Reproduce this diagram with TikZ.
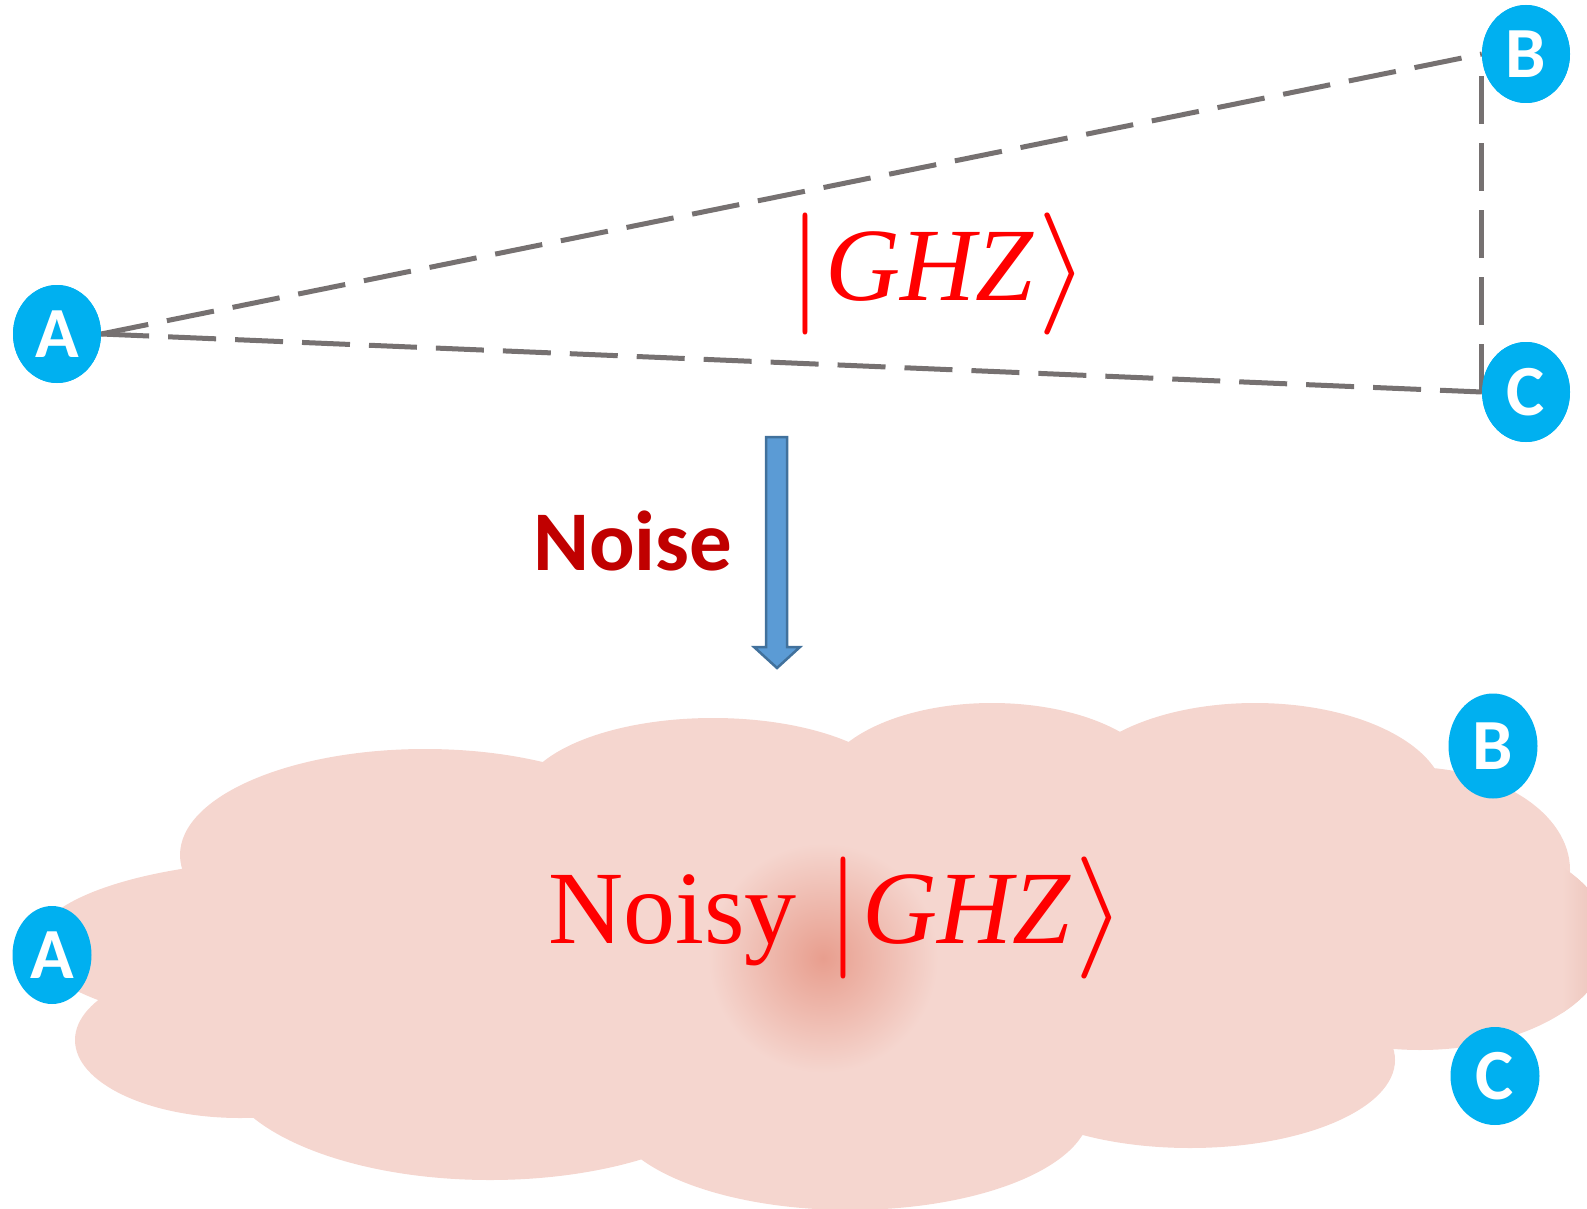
\documentclass[tikz,border=0pt]{standalone}
\usepackage{graphicx}
\usepackage{fontspec}
\setmainfont{Liberation Serif}
\newfontfamily\labelfont{Carlito}
\usetikzlibrary{shapes.geometric}

\definecolor{linkgray}{RGB}{118,113,113}
\definecolor{partycyan}{RGB}{0,176,240}
\definecolor{noisered}{RGB}{192,0,0}
\definecolor{ketred}{RGB}{255,0,0}
\definecolor{arrowfill}{RGB}{91,155,213}
\definecolor{arrowedge}{RGB}{65,113,156}
\definecolor{cloudpink}{RGB}{245,214,207}
\definecolor{cloudspot}{RGB}{232,158,142}
\definecolor{cloudedge}{RGB}{234,190,180}

% ket delimiters stretched to 122pt
\newcommand{\ketopen}{\raisebox{-5pt}{\resizebox*{!}{122pt}{$|$}}}
\newcommand{\ketclose}{\raisebox{-5pt}{\resizebox*{52pt}{122pt}{$\rangle$}}}
\newcommand{\ghzket}{\ketopen\kern2.5pt\textit{GHZ}\kern3pt\ketclose}

\tikzset{
  party/.style={ellipse, fill=partycyan, inner sep=0pt, text=white,
    font=\labelfont\bfseries\fontsize{72}{72}\selectfont},
  link/.style={draw=linkgray, line width=5pt, dash pattern=on 48pt off 19pt},
  ket/.style={text=ketred, inner sep=0pt, anchor=base west,
    font=\fontsize{104}{120}\selectfont},
  noisetext/.style={text=noisered, inner sep=0pt, anchor=base west,
    font=\labelfont\bfseries\fontsize{85}{90}\selectfont},
  lobe/.style={fill=cloudpink}
}

\begin{document}
\begin{tikzpicture}[x=1pt,y=-1pt]
\useasboundingbox (0,0) rectangle (1587,1209);

% ---- noisy cloud (union of elliptic lobes) ----
\begin{scope}
  \clip (0,0) rectangle (1587,1209);
  \fill[lobe]
    (425,855) ellipse (245 and 106)
    (713,800) ellipse (192 and 82)
    (992,790) ellipse (172 and 87)
    (1255,800) ellipse (190 and 97)
    (1410,870) ellipse (160 and 103)
    (1420,940) ellipse (190 and 110)
    (1190,1060) ellipse (205 and 88)
    (850,1110) ellipse (240 and 100)
    (490,1060) ellipse (270 and 120)
    (240,1040) ellipse (165 and 78)
    (300,945) ellipse (265 and 85);
  \fill[lobe] (300,900) -- (425,800) -- (713,770) -- (992,760) -- (1255,760)
    -- (1410,820) -- (1480,940) -- (1400,1030) -- (1190,1080) -- (850,1150)
    -- (490,1120) -- (240,1040) -- (200,950) -- cycle;
  % darker rim where the right lobe leaves the frame
  \begin{scope}
    \clip (1420,940) ellipse (190 and 110);
    \shade[left color=cloudpink, right color=cloudedge] (1562,820) rectangle (1612,1060);
  \end{scope}
  % reddish core of the cloud
  \shade[inner color=cloudspot, outer color=cloudpink] (823,958) circle (115);
\end{scope}

% ---- clean GHZ triangle ----
\node[party, minimum width=88pt, minimum height=98pt] (A) at (57,334) {A};
\node[party, minimum width=88pt, minimum height=98pt] (B) at (1526,54) {B};
\node[party, minimum width=88pt, minimum height=100pt] (C) at (1526,392) {C};

\draw[link] (A.east) -- (B.west);
\draw[link] (A.east) -- (C.west);
\draw[link, shorten >=10pt] (C.west) -- (B.west);

% markers again on top of the link ends
\node[party, minimum width=88pt, minimum height=98pt] at (A) {A};
\node[party, minimum width=88pt, minimum height=98pt] at (B) {B};
\node[party, minimum width=88pt, minimum height=100pt] at (C) {C};

\node[ket] (ket) at (788.5,300) {\ghzket};

% ---- noise arrow ----
\node[noisetext] (noise) at (533,570) {Noise};
\filldraw[fill=arrowfill, draw=arrowedge, line width=2.5pt, line join=miter]
  (766,437) -- (787,437) -- (787,647) -- (800,647) -- (777,668)
  -- (754,647) -- (766,647) -- cycle;

% ---- noisy state ----
\node[ket] (noisyket) at (548,943) {Noisy\kern29.5pt\ghzket};
\node[party, minimum width=79pt, minimum height=98pt] (A2) at (52,955) {A};
\node[party, minimum width=89pt, minimum height=105pt] (B2) at (1493,746) {B};
\node[party, minimum width=89pt, minimum height=98pt] (C2) at (1495,1076) {C};
\end{tikzpicture}
\end{document}
